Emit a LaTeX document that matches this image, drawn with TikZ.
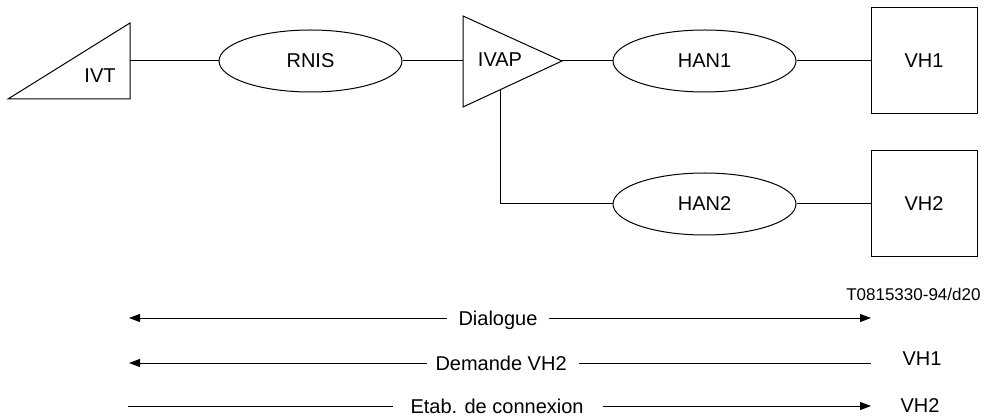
\documentclass[tikz,border=0pt]{standalone}
\usepackage{fontspec}
\setmainfont{Liberation Sans}
\usetikzlibrary{shapes.geometric,arrows.meta}
\begin{document}
\begin{tikzpicture}[x=1pt,y=-1pt,line width=1pt,
  lbl/.style={inner sep=0pt,font=\fontsize{20}{24}\selectfont},
  small/.style={inner sep=0pt,font=\fontsize{17}{20}\selectfont},
  net/.style={ellipse,draw,minimum width=183pt,minimum height=62pt,inner sep=0pt,font=\fontsize{20}{24}\selectfont},
  host/.style={rectangle,draw,minimum width=106pt,minimum height=106pt,inner sep=0pt,font=\fontsize{20}{24}\selectfont},
  tip/.style={-{Triangle[length=11pt,width=8pt]}},
  back/.style={{Triangle[length=11pt,width=8pt]}-}]
\useasboundingbox (0,0) rectangle (984,419);

% terminal IVT (right-angled wedge)
\coordinate (ivtA) at (8,99);
\coordinate (ivtB) at (130,23);
\coordinate (ivtC) at (130,99);
\coordinate (ivtP) at (130,61);
\draw (ivtA) -- (ivtB) -- (ivtC) -- cycle;
\node[lbl] (ivt) at (100,75.5) {IVT};

% networks and hosts
\node[net] (rnis) at (310.5,61) {RNIS};
\node[net] (han1) at (704.5,61) {HAN1};
\node[net] (han2) at (704.5,204) {HAN2};
\node[host] (vh1) at (924,61) {VH1};
\node[host] (vh2) at (924,204) {VH2};

% access point IVAP (triangle pointing right)
\coordinate (ivapT) at (463,16);
\coordinate (ivapB) at (463,107);
\coordinate (ivapR) at (562,61);
\coordinate (ivapL) at (463,61);
\coordinate (ivapD) at (500,89.8);
\draw (ivapT) -- (ivapR) -- (ivapB) -- cycle;
\node[lbl] (ivap) at (500,60) {IVAP};

% links
\draw (ivtP) -- (rnis.west);
\draw (rnis.east) -- (ivapL);
\draw (ivapR) -- (han1.west);
\draw (han1.east) -- (vh1.west);
\draw (ivapD) |- (han2.west);
\draw (han2.east) -- (vh2.west);

% figure reference
\node[small,anchor=base east] (ref) at (981,301) {T0815330-94/d20};

% message sequence
\node[lbl,anchor=base west] (dlg) at (458,325.5) {Dialogue};
\coordinate (dlgL) at (129,318);
\coordinate (dlgR) at (871,318);
\draw[back] (dlgL) -- ([xshift=-11pt]dlg.west |- dlgL);
\draw[tip] ([xshift=11pt]dlg.east |- dlgR) -- (dlgR);

\node[lbl,anchor=base west] (dem) at (435,370) {Demande VH2};
\coordinate (demL) at (129,363);
\coordinate (demR) at (871,363);
\draw[back] (demL) -- ([xshift=-8pt]dem.west |- demL);
\draw ([xshift=12pt]dem.east |- demR) -- (demR);
\node[lbl,anchor=base west] (vh1m) at (902,365) {VH1};

\node[lbl,anchor=base west] (etab) at (410,413) {Etab. de connexion};
\coordinate (etabL) at (128,406);
\coordinate (etabR) at (871,406);
\draw (etabL) -- ([xshift=-17pt]etab.west |- etabL);
\draw[tip] ([xshift=19pt]etab.east |- etabR) -- (etabR);
\node[lbl,anchor=base west] (vh2m) at (900,412) {VH2};
\end{tikzpicture}
\end{document}
